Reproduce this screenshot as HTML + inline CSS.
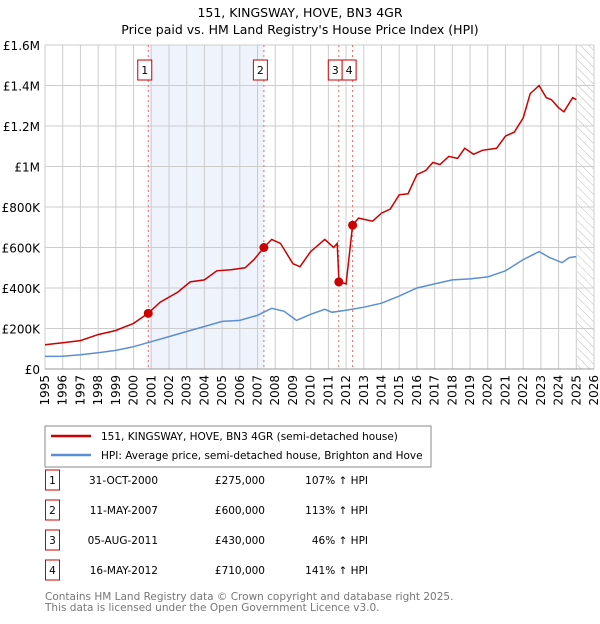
<!DOCTYPE html>
<html><head><meta charset="utf-8"><style>
body{margin:0;background:#fff;font-family:"DejaVu Sans","Liberation Sans",sans-serif;}
svg text{font-family:"DejaVu Sans","Liberation Sans",sans-serif;}
</style></head><body>
<svg id="c" width="600" height="620" xmlns="http://www.w3.org/2000/svg">
<defs><pattern id="h" width="6" height="6" patternUnits="userSpaceOnUse" patternTransform="rotate(-45)"><line x1="0" y1="0" x2="0" y2="6" stroke="#bbb" stroke-width="1"/></pattern></defs>
<text x="300" y="17" text-anchor="middle" font-size="12.5">151, KINGSWAY, HOVE, BN3 4GR</text>
<text x="300" y="34" text-anchor="middle" font-size="12.5">Price paid vs. HM Land Registry's House Price Index (HPI)</text>
<g id="plot"></g>
<rect x="45" y="426" width="386" height="41" fill="#fff" stroke="#888"/>
<line x1="51" y1="436" x2="91" y2="436" stroke="#cc0000" stroke-width="2.5"/>
<text x="101" y="440" font-size="10.5">151, KINGSWAY, HOVE, BN3 4GR (semi-detached house)</text>
<line x1="51" y1="455" x2="91" y2="455" stroke="#5b8fd4" stroke-width="2.5"/>
<text x="101" y="459" font-size="10.5">HPI: Average price, semi-detached house, Brighton and Hove</text>
<g id="tbl" font-size="10.5"></g>
<text x="45" y="600" font-size="10.5" fill="#777">Contains HM Land Registry data © Crown copyright and database right 2025.</text>
<text x="45" y="611" font-size="10.5" fill="#777">This data is licensed under the Open Government Licence v3.0.</text>
</svg>
<script>
const years=[1995,1996,1997,1998,1999,2000,2001,2002,2003,2004,2005,2006,2007,2008,2009,2010,2011,2012,2013,2014,2015,2016,2017,2018,2019,2020,2021,2022,2023,2024,2025,2026];
const yTicks=[0,200000,400000,600000,800000,1000000,1200000,1400000,1600000];
const yTickLabels=["£0","£200K","£400K","£600K","£800K","£1M","£1.2M","£1.4M","£1.6M"];
const hpiT=[1995,1996,1997,1998,1999,2000,2001,2002,2003,2004,2005,2006,2007,2007.8,2008.5,2009.2,2010,2010.8,2011.2,2012,2013,2014,2015,2016,2017,2018,2019,2020,2021,2022,2022.9,2023.5,2024.2,2024.6,2025];
const hpiV=[62000,63000,70000,80000,92000,110000,135000,160000,185000,210000,235000,240000,265000,300000,285000,240000,270000,295000,280000,290000,305000,325000,360000,400000,420000,440000,445000,455000,485000,540000,580000,550000,525000,550000,555000];
const propT=[1995,1996,1997,1998,1999,2000,2000.83,2001.5,2002.5,2003.2,2004,2004.7,2005.5,2006.3,2006.8,2007.36,2007.8,2008.3,2009,2009.4,2010,2010.8,2011.3,2011.5,2011.6,2012.0,2012.37,2012.7,2013.5,2014,2014.5,2015,2015.5,2016,2016.5,2016.9,2017.3,2017.8,2018.3,2018.7,2019.2,2019.7,2020.5,2021,2021.5,2022,2022.4,2022.9,2023.3,2023.6,2024,2024.3,2024.8,2025];
const propV=[120000,130000,140000,170000,190000,225000,275000,330000,380000,430000,440000,485000,490000,500000,540000,600000,640000,620000,520000,505000,580000,640000,600000,620000,430000,420000,710000,745000,730000,770000,790000,860000,865000,960000,980000,1020000,1010000,1050000,1040000,1090000,1060000,1080000,1090000,1150000,1170000,1240000,1360000,1400000,1340000,1330000,1290000,1270000,1340000,1330000];
const saleT=[2000.83,2007.36,2011.59,2012.37];
const saleV=[275000,600000,430000,710000];
const saleLbl=["1","2","3","4"];
const saleDates=["31-OCT-2000","11-MAY-2007","05-AUG-2011","16-MAY-2012"];
const salePrices=["£275,000","£600,000","£430,000","£710,000"];
const salePct=["107% ↑ HPI","113% ↑ HPI","46% ↑ HPI","141% ↑ HPI"];
const X0=45,X1=594,Y0=369,Y1=45;
const xs=t=>X0+(t-1995)/(2026-1995)*(X1-X0);
const ys=v=>Y0-v/1600000*(Y0-Y1);
const NS="http://www.w3.org/2000/svg";
const g=document.getElementById('plot');
function mk(tag,at,par){const e=document.createElementNS(NS,tag);for(const k in at)e.setAttribute(k,at[k]);(par||g).appendChild(e);return e;}
let e;
e=mk('rect',{x:xs(saleT[0]),y:Y1,width:xs(saleT[1])-xs(saleT[0]),height:Y0-Y1,fill:'#eef3fc'});


e=mk('rect',{x:xs(2025.05),y:Y1,width:X1-xs(2025.05),height:Y0-Y1,fill:'url(#h)'});


years.forEach(y=>{
 e=mk('line',{x1:xs(y),x2:xs(y),y1:Y1,y2:Y0,stroke:'#ccc'});
 
 
 e=mk('text',{x:0,y:0,'font-size':12,'text-anchor':'end',transform:`translate(${xs(y)+4},${Y0+6}) rotate(-90)`});
 e.textContent=y;
 
 
});
yTicks.forEach((v,i)=>{
 e=mk('line',{x1:X0,x2:X1,y1:ys(v),y2:ys(v),stroke:'#ccc'});
 
 
 e=mk('text',{x:X0-5,y:ys(v)+5,'font-size':12,'text-anchor':'end'});
 e.textContent=yTickLabels[i];
 
 
});
e=mk('line',{x1:X0,x2:X1,y1:Y0,y2:Y0,stroke:'#999'});


saleT.forEach((t,i)=>{
 e=mk('line',{x1:xs(t),x2:xs(t),y1:Y1,y2:Y0,stroke:'#e66','stroke-dasharray':'2,3'});
 
 
});
const path=(T,V)=>T.map((t,i)=>(i?'L':'M')+xs(t).toFixed(1)+','+ys(V[i]).toFixed(1)).join('');
e=mk('path',{d:path(hpiT,hpiV),fill:'none',stroke:'#5b8fd4','stroke-width':1.5});


e=mk('path',{d:path(propT,propV),fill:'none',stroke:'#cc0000','stroke-width':1.5});


saleT.forEach((t,i)=>{
 e=mk('circle',{cx:xs(t),cy:ys(saleV[i]),r:4.5,fill:'#cc0000'});
 
 
 const bx=xs(t)-10.5;
 e=mk('rect',{x:bx,y:60,width:14,height:20,fill:'#fff',stroke:'#cc0000'});
 
 
 e=mk('text',{x:bx+7,y:74,'font-size':11,'text-anchor':'middle'});
 e.textContent=saleLbl[i];
 
 
});
const tb=document.getElementById('tbl');
saleDates.forEach((d,i)=>{
 const y=487+i*30;
 e=mk('rect',{x:45.5,y:y-17,width:14,height:20,fill:'#fff',stroke:'#cc0000'},tb);
 
 
 e=mk('text',{x:52.5,y:y-3,'text-anchor':'middle'},tb);e.textContent=saleLbl[i];
 
 
 e=mk('text',{x:158,y:y-3,'text-anchor':'end'},tb);e.textContent=d;
 
 
 e=mk('text',{x:265,y:y-3,'text-anchor':'end'},tb);e.textContent=salePrices[i];
 
 
 e=mk('text',{x:368,y:y-3,'text-anchor':'end'},tb);e.textContent=salePct[i];
 
 
});
</script>
</body></html>
